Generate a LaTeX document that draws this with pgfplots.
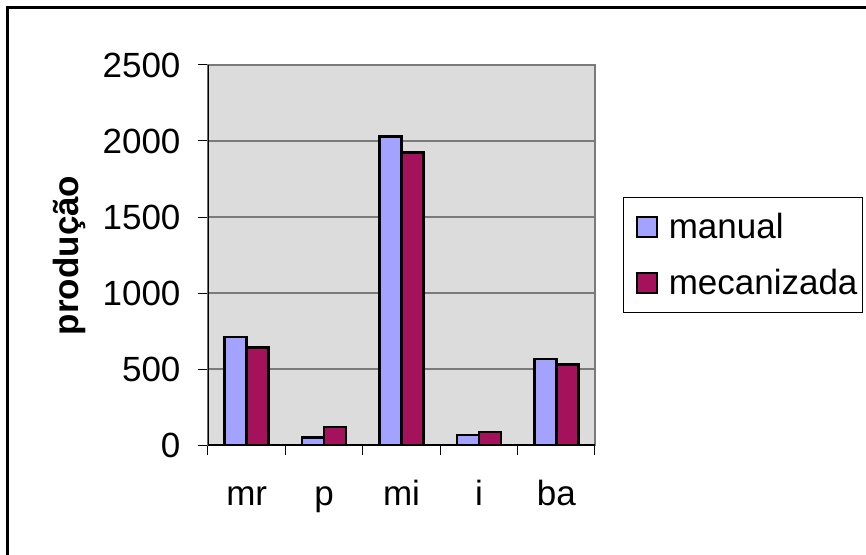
\documentclass[border=0pt]{standalone}
\usepackage{fontspec}
\setmainfont{Liberation Sans}
\usepackage{pgfplots}
\pgfplotsset{compat=1.18}
\definecolor{manualc}{HTML}{A3A3FF}
\definecolor{mecc}{HTML}{A3125A}
\definecolor{plotbg}{HTML}{DCDCDC}
\definecolor{gridc}{HTML}{7A7A7A}
\newcommand{\bigf}{\fontsize{35}{42}\selectfont}
\begin{document}
\begin{tikzpicture}
\begin{axis}[
  name=ax, at={(0pt,0pt)}, anchor=south west,
  scale only axis, width=387pt, height=380pt,
  xmin=-0.5, xmax=4.5, ymin=0, ymax=2500,
  ybar, bar width=0.284,
  xtick={-0.5,0.5,1.5,2.5,3.5,4.5},
  xticklabels={mr,p,mi,i,ba},
  x tick label as interval,
  ytick={0,500,1000,1500,2000,2500},
  scaled y ticks=false,
  yticklabel style={/pgf/number format/1000 sep={}, font=\bigf, xshift=-14pt},
  xticklabel style={font=\bigf, anchor=base, yshift=-50pt},
  /pgf/number format/assume math mode=true,
  tick align=outside, tick pos=left,
  major tick length=10pt,
  tick style={black, line width=1pt},
  ymajorgrids, grid style={gridc, line width=1.5pt},
  axis line style={gridc, line width=1.5pt},
  axis background/.style={fill=plotbg},
  ylabel={produção},
  ylabel style={at={(rel axis cs:-0.359,0.499)}, anchor=center, font=\bfseries\bigf},
  legend image code/.code={\path (0pt,0pt); \draw[#1, line width=2pt] (9pt,-10pt) rectangle (29pt,10pt);},
  legend cell align=left,
  legend style={at={(rel axis cs:1.0724,0.6526)}, anchor=north west,
    draw=black, line width=1pt, fill=white, font=\bigf,
    inner xsep=3pt, inner ysep=14pt, row sep=25pt,
    /tikz/every odd column/.append style={column sep=9pt}},
]
\addplot[fill=manualc, draw=black, line width=2.5pt, bar shift=-0.142]
  coordinates {(0,710) (1,50) (2,2030) (3,65) (4,565)};
\addlegendentry{manual}
\addplot[fill=mecc, draw=black, line width=2.5pt, bar shift=0.142]
  coordinates {(0,640) (1,120) (2,1925) (3,85) (4,530)};
\addlegendentry{mecanizada}
\draw[black, line width=1.5pt] (rel axis cs:0,1) -- (rel axis cs:0,0) -- (rel axis cs:1,0);
\end{axis}
\pgfresetboundingbox
\path[use as bounding box] ([shift={(-208pt,-109pt)}]ax.south west) rectangle ([shift={(658pt,445pt)}]ax.south west);
\draw[line width=3pt] ([shift={(-200pt,-120pt)}]ax.south west) -- ([shift={(-200pt,437pt)}]ax.south west) -- ([shift={(670pt,437pt)}]ax.south west);
\end{tikzpicture}
\end{document}
